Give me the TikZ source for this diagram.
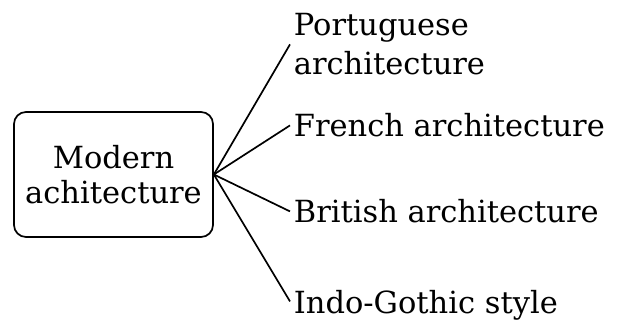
\documentclass[tikz,border=0pt]{standalone}
\usepackage{xcolor}
\usepackage{fontspec}
\setmainfont{DejaVu Serif}
\begin{document}
\begin{tikzpicture}[x=1pt,y=1pt,line width=1.7pt,
  font=\fontsize{30.5}{39}\selectfont,
  leaf/.style={anchor=base west,inner sep=0pt,text depth=0pt,align=left}]
\pgfmathsetmacro{\kleafx}{293}
\useasboundingbox(0,0)rectangle(618,-320);
% clipped heading at the top edge
\node[anchor=base west,inner sep=0pt,font=\fontsize{26}{30}\selectfont\bfseries](ans)at(0,1){Ans\textcolor{red}{.}};
\node[draw,rounded corners=12pt,minimum width=199pt,minimum height=125pt,align=center,inner sep=0pt](modern)at(113.5,-174.5){Modern\\[-4pt]achitecture};
\node[leaf](port)at(\kleafx,-75){Portuguese\\architecture};
\foreach \kname/\ky/\klb in {french/137/{French architecture},british/223/{British architecture},indo/313/{Indo-Gothic style}}{\node[leaf](\kname)at(\kleafx,-\ky){\klb};}
\foreach \kname in {port,french,british,indo}{\draw(modern.east)--([xshift=-3pt]\kname.west);}
\end{tikzpicture}
\end{document}
